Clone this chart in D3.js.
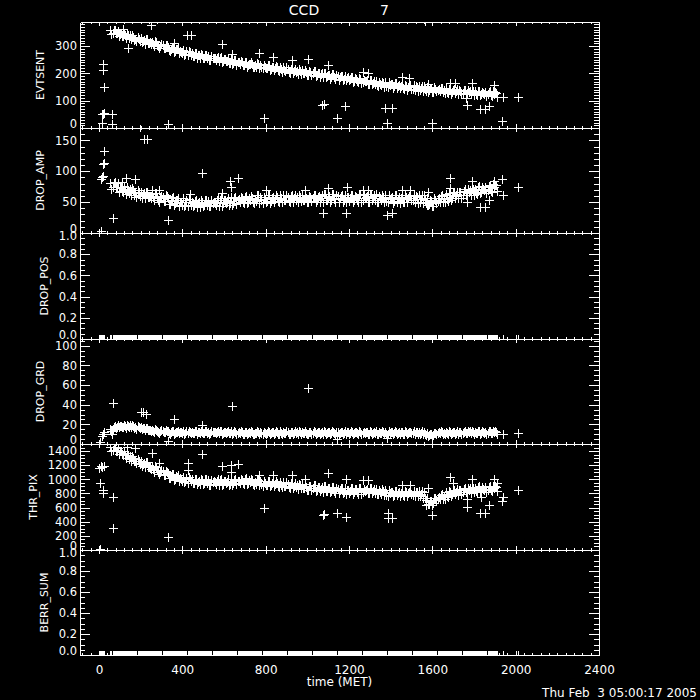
<!DOCTYPE html>
<html>
<head>
<meta charset="utf-8">
<script src="https://cdn.jsdelivr.net/npm/d3@7"></script>
<style>
  html, body { margin: 0; padding: 0; background: #000; }
  svg { display: block; }
</style>
</head>
<body>
<svg id="main-svg"></svg>
<script>
// ---- data ----
// two interleaved sample grids (the band is very dense)
const TIME = [
  55,65,75,85,95,105,115,125,135,145,
  155,165,175,185,195,205,215,225,235,245,
  255,265,275,285,295,305,315,325,335,345,
  355,365,375,385,395,405,415,425,435,445,
  455,465,475,485,495,505,515,525,535,545,
  555,565,575,585,595,605,615,625,635,645,
  655,665,675,685,695,705,715,725,735,745,
  755,765,775,785,795,805,815,825,835,845,
  855,865,875,885,895,905,915,925,935,945,
  955,965,975,985,995,1005,1015,1025,1035,1045,
  1055,1065,1075,1085,1095,1105,1115,1125,1135,1145,
  1155,1165,1175,1185,1195,1205,1215,1225,1235,1245,
  1255,1265,1275,1285,1295,1305,1315,1325,1335,1345,
  1355,1365,1375,1385,1395,1405,1415,1425,1435,1445,
  1455,1465,1475,1485,1495,1505,1515,1525,1535,1545,
  1555,1565,1575,1585,1595,1605,1615,1625,1635,1645,
  1655,1665,1675,1685,1695,1705,1715,1725,1735,1745,
  1755,1765,1775,1785,1795,1805,1815,1825,1835,1845,
  1855,1865,1875,1885,1895,1905
];
const TIME_B = [
  60,70,80,90,100,110,120,130,140,150,
  160,170,180,190,200,210,220,230,240,250,
  260,270,280,290,300,310,320,330,340,350,
  360,370,380,390,400,410,420,430,440,450,
  460,470,480,490,500,510,520,530,540,550,
  560,570,580,590,600,610,620,630,640,650,
  660,670,680,690,700,710,720,730,740,750,
  760,770,780,790,800,810,820,830,840,850,
  860,870,880,890,900,910,920,930,940,950,
  960,970,980,990,1000,1010,1020,1030,1040,1050,
  1060,1070,1080,1090,1100,1110,1120,1130,1140,1150,
  1160,1170,1180,1190,1200,1210,1220,1230,1240,1250,
  1260,1270,1280,1290,1300,1310,1320,1330,1340,1350,
  1360,1370,1380,1390,1400,1410,1420,1430,1440,1450,
  1460,1470,1480,1490,1500,1510,1520,1530,1540,1550,
  1560,1570,1580,1590,1600,1610,1620,1630,1640,1650,
  1660,1670,1680,1690,1700,1710,1720,1730,1740,1750,
  1760,1770,1780,1790,1800,1810,1820,1830,1840,1850,
  1860,1870,1880,1890,1900,1910
];

const EVTSENT = [
  359,349,359,348,338,348,337,339,345,330,
  324,334,327,333,319,313,323,325,311,313,
  315,301,314,300,301,303,293,302,284,290,
  296,282,288,274,280,286,272,266,277,275,
  265,276,266,256,267,257,268,263,249,256,
  255,257,244,259,246,252,247,238,252,239,
  250,241,235,242,229,243,230,233,236,223,
  225,236,231,218,225,219,230,217,224,219,
  222,209,216,223,210,216,203,218,209,204,
  199,210,214,201,204,194,205,200,207,194,
  201,196,187,202,189,195,186,197,180,190,
  185,192,179,174,185,179,186,173,180,167,
  181,168,171,174,161,175,166,161,156,167,
  158,165,168,151,158,161,152,163,154,145,
  156,143,154,149,156,144,139,150,154,145,
  136,143,151,138,145,133,144,139,135,146,
  138,145,128,140,131,143,134,126,137,129,
  140,128,131,123,134,134,121,137,124,128,
  131,123,134,118,125,129
];
const EVTSENT_B = [
  345,358,347,356,345,337,349,329,339,339,
  340,323,317,327,328,320,309,325,311,306,
  307,317,305,294,306,292,305,296,282,295,
  278,288,292,281,273,268,281,282,269,264,
  274,258,268,272,256,269,256,249,262,258,
  248,261,257,241,252,244,255,239,234,248,
  232,243,247,231,242,225,236,241,225,230,
  237,218,223,231,218,231,212,223,213,227,
  211,225,206,211,222,205,216,200,217,210,
  215,199,202,213,194,207,194,208,189,200,
  187,201,203,187,195,181,198,185,193,176,
  190,174,191,184,174,187,168,182,172,183,
  163,177,173,160,177,160,171,173,154,162,
  170,151,153,167,160,147,164,148,159,155,
  145,159,140,154,144,156,152,136,139,153,
  152,136,133,147,131,149,136,144,147,131,
  128,133,144,126,140,128,142,139,123,138,
  125,140,136,139,120,123,137,119,133,124,
  117,132,119,134,130,115
];
const EVTSENT_OUT_T = [250,115,422,441,360,139,591,640,768,835,928,1005,1099,
  18,18,24,14,18,22,63,14,63,197,332,793,1070,1080,1181,1142,
  1268,1293,1453,1490,1373,1405,1383,1580,1597,1685,1709,1790,1762,1766,1829,1853,1872,1896,1940,2011,1935,1565];
const EVTSENT_OUT_V = [377,362,340,340,311,292,307,270,274,259,248,252,230,
  233,211,149,50,53,55,50,20,13,-2,13,35,86,88,79,35,
  204,200,186,182,75,75,20,160,20,164,164,164,108,86,68,68,82,156,112,112,24,392];

const DROP_AMP = [
  81,74,82,75,67,75,67,69,74,64,
  61,69,65,70,60,57,65,67,58,60,
  63,53,64,54,56,59,52,60,47,52,
  58,48,54,44,50,56,46,43,51,51,
  45,54,48,42,51,45,54,52,43,49,
  49,53,44,56,48,54,51,46,58,49,
  59,53,50,57,48,60,51,54,57,49,
  52,61,58,49,55,52,61,52,58,55,
  59,50,56,62,53,59,50,62,56,53,
  50,59,62,53,56,50,59,56,62,53,
  60,57,51,63,54,60,54,63,51,60,
  56,62,53,50,59,56,62,53,59,50,
  63,54,57,60,51,63,57,54,51,60,
  53,59,62,50,55,58,52,61,55,49,
  58,50,59,56,62,53,50,58,61,55,
  49,53,57,47,52,44,54,52,51,61,
  56,63,52,62,57,66,61,56,66,61,
  71,62,66,61,71,71,63,76,67,71,
  74,69,78,67,74,77
];
const DROP_AMP_B = [
  72,81,74,81,73,68,76,63,70,71,
  73,62,59,66,67,63,56,67,59,56,
  58,65,58,51,60,52,61,56,47,56,
  46,53,57,50,46,44,53,55,46,44,
  52,42,50,54,44,54,46,43,53,51,
  45,56,54,44,53,49,57,48,46,56,
  47,55,59,50,58,48,56,60,50,55,
  61,49,53,59,51,61,49,57,51,61,
  52,62,50,54,62,52,60,50,62,58,
  62,52,54,62,50,60,52,62,50,58,
  51,61,63,53,59,51,63,55,61,51,
  60,50,62,58,52,62,50,60,54,62,
  51,61,59,51,63,53,61,63,51,57,
  62,50,52,62,57,49,61,51,59,57,
  51,62,50,60,54,62,60,49,51,61,
  61,49,45,54,43,56,49,56,60,51,
  50,55,64,53,64,56,67,66,57,68,
  61,71,70,73,62,64,75,64,74,69,
  65,76,68,79,78,68
];
const DROP_AMP_OUT_T = [24,20,26,10,14,18,216,230,197,67,332,495,629,668,634,130,173,110,
  254,288,437,591,802,989,1099,1075,1186,1191,1268,1293,1453,1493,1580,
  1685,1790,1896,1935,2011,1940,1766,1829,1853,1872,1383,1405,1575,1685,8];
const DROP_AMP_OUT_V = [132,112,114,88,90,92,153,153,171,24,21,97,85,89,74,89,87,82,
  69,69,63,64,69,69,73,32,32,74,69,69,69,69,66,
  89,84,85,87,74,61,50,42,42,53,29,32,45,73,3];

const DROP_POS = [
  0,0,0,0,0,0,0,0,0,0, 0,0,0,0,0,0,0,0,0,0, 0,0,0,0,0,0,0,0,0,0,
  0,0,0,0,0,0,0,0,0,0, 0,0,0,0,0,0,0,0,0,0, 0,0,0,0,0,0,0,0,0,0,
  0,0,0,0,0,0,0,0,0,0, 0,0,0,0,0,0,0,0,0,0, 0,0,0,0,0,0,0,0,0,0,
  0,0,0,0,0,0,0,0,0,0, 0,0,0,0,0,0,0,0,0,0, 0,0,0,0,0,0,0,0,0,0,
  0,0,0,0,0,0,0,0,0,0, 0,0,0,0,0,0,0,0,0,0, 0,0,0,0,0,0,0,0,0,0,
  0,0,0,0,0,0,0,0,0,0, 0,0,0,0,0,0,0,0,0,0, 0,0,0,0,0,0,0,0,0,0,
  0,0,0,0,0,0
];
const DROP_POS_B = [
  0,0,0,0,0,0,0,0,0,0, 0,0,0,0,0,0,0,0,0,0, 0,0,0,0,0,0,0,0,0,0,
  0,0,0,0,0,0,0,0,0,0, 0,0,0,0,0,0,0,0,0,0, 0,0,0,0,0,0,0,0,0,0,
  0,0,0,0,0,0,0,0,0,0, 0,0,0,0,0,0,0,0,0,0, 0,0,0,0,0,0,0,0,0,0,
  0,0,0,0,0,0,0,0,0,0, 0,0,0,0,0,0,0,0,0,0, 0,0,0,0,0,0,0,0,0,0,
  0,0,0,0,0,0,0,0,0,0, 0,0,0,0,0,0,0,0,0,0, 0,0,0,0,0,0,0,0,0,0,
  0,0,0,0,0,0,0,0,0,0, 0,0,0,0,0,0,0,0,0,0, 0,0,0,0,0,0,0,0,0,0,
  0,0,0,0,0,0
];
const DROP_POS_OUT_T = [5,10,15,20,25,1940,2011];
const DROP_POS_OUT_V = [0,0,0,0,0,0,0];

const DROP_GRD = [
  15.5,15.5,18,17.5,17,18.5,17.5,18,19,17.5,
  17,18,17,18,16,15,16,16,14,14,
  14.5,12.5,14.5,12.5,13,13.5,12,13.5,11,12,
  13,11.5,12.5,11,12,13,11.5,11,12.5,12.5,
  11.5,13,12,11,12.5,11.5,13,12.5,11,12,
  12,12.5,11,13,11.5,12.5,12,11,13,11.5,
  12.5,11.5,11,12,10.5,12.5,11,11.5,12,10.5,
  11,12.5,12,10.5,11.5,11,12.5,11,12,11.5,
  12,10.5,11.5,12.5,11,12,10.5,12.5,11.5,11,
  10.5,12,12.5,11,11.5,10.5,12,11.5,12.5,11,
  12,11.5,10.5,12.5,11,12,11,12.5,10.5,12,
  11.5,12.5,11,10.5,12,11.5,12.5,11,12,10.5,
  12.5,11,11.5,12,10.5,12.5,11.5,11,10.5,12,
  11,12,12.5,10.5,11.5,12,11,12.5,11.5,10.5,
  12,10.5,12,11.5,12.5,11,10.5,12,12.5,11.5,
  10,10.5,11,9,10,9,11,11,11,12.5,
  11.5,12.5,10.5,12,11,12.5,11.5,10.5,12,11,
  13,11.5,12,11,12.5,12.5,11,13,11.5,12,
  12.5,11.5,13,11,12,12.5
];
const DROP_GRD_B = [
  13.5,17,16.5,19,18,17,19.5,16.5,18.5,19,
  19.5,16.5,15.5,17.5,17.5,16,14,16.5,14,13,
  13.5,15,13.5,11.5,14,12,14,13,10.5,13,
  10.5,12.5,13.5,12,11,10.5,13,13.5,11.5,11,
  13,10.5,12.5,13.5,11,13.5,11.5,10.5,13,12.5,
  11,13.5,13,10.5,12.5,11.5,13.5,11,10.5,13,
  10,12,13,10.5,12.5,10,12,13,10.5,11.5,
  13,10,11,12.5,10.5,13,10,12,10.5,13,
  10.5,13,10,11,13,10.5,12.5,10,13,12,
  13,10.5,11,13,10,12.5,10.5,13,10,12,
  10,12.5,13,10.5,12,10,13,11,12.5,10,
  12.5,10,13,12,10.5,13,10,12.5,11,13,
  10,12.5,12,10,13,10.5,12.5,13,10,11.5,
  13,10,10.5,13,12,10,13,10.5,12.5,12,
  10.5,13,10,12.5,11,13,12.5,10,10.5,13,
  12.5,9.5,8.5,10.5,8,11.5,10,12,13,10.5,
  10,11,13,10,12.5,10.5,13,12.5,10,12.5,
  11,13.5,13,13.5,10.5,11,13.5,10.5,13,11.5,
  10.5,13,11,13.5,13,10.5
];
const DROP_GRD_OUT_T = [67,202,211,226,360,495,640,1005,19,62,332,1142,5,1940,2011,1383,1597,14,24];
const DROP_GRD_OUT_V = [42,33,33,31,25,19,39,57,10,10,3,5,2,10,11,6,7,8,12];

const THR_PIX = [
  1460,1409,1458,1407,1356,1401,1343,1345,1367,1289,
  1253,1299,1265,1291,1217,1184,1232,1240,1168,1176,
  1183,1109,1175,1101,1107,1114,1062,1110,1018,1046,
  1076,1008,1040,972,1004,1038,973,948,1003,998,
  953,1011,969,927,985,945,1004,984,923,963,
  962,982,921,1001,940,981,962,924,1005,947,
  1008,970,951,993,934,1014,951,968,985,922,
  939,996,973,910,947,924,982,919,957,934,
  951,889,926,964,901,939,876,953,909,886,
  862,919,935,872,888,843,901,878,916,854,
  891,869,826,904,841,879,836,894,811,869,
  846,884,821,799,856,835,876,816,857,797,
  878,818,839,859,800,878,834,810,786,842,
  798,834,850,766,802,820,780,840,800,760,
  820,760,820,800,840,780,759,817,835,792,
  735,740,735,650,700,660,735,727,720,793,
  765,818,750,822,788,853,819,785,851,817,
  881,824,847,810,873,876,818,900,842,864,
  886,848,910,832,874,896
];
const THR_PIX_B = [
  1401,1455,1405,1446,1396,1355,1402,1306,1340,1335,
  1332,1253,1226,1264,1263,1224,1173,1239,1175,1150,
  1150,1188,1135,1082,1133,1068,1121,1083,1019,1072,
  997,1041,1059,1012,978,959,1019,1027,970,952,
  999,932,982,1006,939,1004,951,925,989,976,
  936,1001,987,922,973,948,1001,938,926,993,
  929,983,1010,947,1000,935,984,1007,939,962,
  998,917,940,976,921,983,903,952,911,973,
  905,968,887,911,960,893,942,874,948,919,
  941,873,882,931,849,909,855,917,837,887,
  832,895,905,838,874,820,895,841,877,810,
  872,805,880,852,810,874,797,862,824,876,
  799,864,852,800,879,812,860,869,787,822,
  857,775,784,845,815,761,839,774,826,813,
  774,839,761,826,787,839,825,758,769,831,
  814,714,656,696,641,739,702,753,779,727,
  726,765,829,763,834,787,858,851,792,863,
  815,883,873,889,814,830,897,821,888,851,
  827,894,844,911,900,837
];
const THR_PIX_OUT_T = [0,8,15,22,5,19,19,67,67,332,254,495,134,173,428,428,288,591,634,668,634,
  793,768,835,928,989,1099,1075,1080,1142,1186,1186,1268,1293,1389,1389,1405,
  1453,1493,1597,1570,1580,1685,1699,1790,1766,1766,1829,1853,1872,1896,1911,1940,1935,2011,1834,5];
const THR_PIX_OUT_V = [1160,1190,1175,1185,945,846,803,746,305,178,1372,1358,1457,1443,1230,1130,1230,1187,1201,1216,1102,
  590,1059,1059,1059,1002,1088,490,505,518,462,1002,988,988,518,448,448,
  917,917,490,633,874,1031,945,1002,604,718,518,518,633,1002,945,746,690,846,746,20];

const BERR_SUM = [
  0,0,0,0,0,0,0,0,0,0, 0,0,0,0,0,0,0,0,0,0, 0,0,0,0,0,0,0,0,0,0,
  0,0,0,0,0,0,0,0,0,0, 0,0,0,0,0,0,0,0,0,0, 0,0,0,0,0,0,0,0,0,0,
  0,0,0,0,0,0,0,0,0,0, 0,0,0,0,0,0,0,0,0,0, 0,0,0,0,0,0,0,0,0,0,
  0,0,0,0,0,0,0,0,0,0, 0,0,0,0,0,0,0,0,0,0, 0,0,0,0,0,0,0,0,0,0,
  0,0,0,0,0,0,0,0,0,0, 0,0,0,0,0,0,0,0,0,0, 0,0,0,0,0,0,0,0,0,0,
  0,0,0,0,0,0,0,0,0,0, 0,0,0,0,0,0,0,0,0,0, 0,0,0,0,0,0,0,0,0,0,
  0,0,0,0,0,0
];
const BERR_SUM_B = [
  0,0,0,0,0,0,0,0,0,0, 0,0,0,0,0,0,0,0,0,0, 0,0,0,0,0,0,0,0,0,0,
  0,0,0,0,0,0,0,0,0,0, 0,0,0,0,0,0,0,0,0,0, 0,0,0,0,0,0,0,0,0,0,
  0,0,0,0,0,0,0,0,0,0, 0,0,0,0,0,0,0,0,0,0, 0,0,0,0,0,0,0,0,0,0,
  0,0,0,0,0,0,0,0,0,0, 0,0,0,0,0,0,0,0,0,0, 0,0,0,0,0,0,0,0,0,0,
  0,0,0,0,0,0,0,0,0,0, 0,0,0,0,0,0,0,0,0,0, 0,0,0,0,0,0,0,0,0,0,
  0,0,0,0,0,0,0,0,0,0, 0,0,0,0,0,0,0,0,0,0, 0,0,0,0,0,0,0,0,0,0,
  0,0,0,0,0,0
];
const BERR_SUM_OUT_T = [5,10,15,20,25,1940,2011];
const BERR_SUM_OUT_V = [0,0,0,0,0,0,0];

// axis setup
const PANEL_NAMES = ["EVTSENT", "DROP_AMP", "DROP_POS", "DROP_GRD", "THR_PIX", "BERR_SUM"];
const Y_MAX = [388, 170, 1, 107, 1500, 1];
const Y_TICKS = [
  [0, 100, 200, 300],
  [0, 50, 100, 150],
  [0, 0.2, 0.4, 0.6, 0.8, 1.0],
  [0, 20, 40, 60, 80, 100],
  [0, 200, 400, 600, 800, 1000, 1200, 1400],
  [0, 0.2, 0.4, 0.6, 0.8, 1.0]
];
const Y_MINOR_STEP = [10, 10, 0.05, 5, 50, 0.05];
const TIME_TICKS = [0, 400, 800, 1200, 1600, 2000, 2400];
const TIME_DOMAIN = [-91, 2400];

const panels = [
  { series: [[TIME, EVTSENT], [TIME_B, EVTSENT_B]], outT: EVTSENT_OUT_T, outV: EVTSENT_OUT_V },
  { series: [[TIME, DROP_AMP], [TIME_B, DROP_AMP_B]], outT: DROP_AMP_OUT_T, outV: DROP_AMP_OUT_V },
  { series: [[TIME, DROP_POS], [TIME_B, DROP_POS_B]], outT: DROP_POS_OUT_T, outV: DROP_POS_OUT_V },
  { series: [[TIME, DROP_GRD], [TIME_B, DROP_GRD_B]], outT: DROP_GRD_OUT_T, outV: DROP_GRD_OUT_V },
  { series: [[TIME, THR_PIX], [TIME_B, THR_PIX_B]], outT: THR_PIX_OUT_T, outV: THR_PIX_OUT_V },
  { series: [[TIME, BERR_SUM], [TIME_B, BERR_SUM_B]], outT: BERR_SUM_OUT_T, outV: BERR_SUM_OUT_V }
];

// ---- layout ----
CANVAS_WIDTH = 700
CANVAS_HEIGHT = 700
PLOT_LEFT = 80
PLOT_RIGHT = 599
PLOT_TOP = 22
PLOT_BOTTOM = 655
PANEL_H = (PLOT_BOTTOM - PLOT_TOP) / PANEL_NAMES.length
FONT = "'DejaVu Sans', sans-serif"

const svg = d3.select("#main-svg")
  .attr("width", CANVAS_WIDTH)
  .attr("height", CANVAS_HEIGHT);

svg.append("rect")
  .attr("width", CANVAS_WIDTH)
  .attr("height", CANVAS_HEIGHT)
  .attr("fill", "#000");

const x = d3.scaleLinear().domain(TIME_DOMAIN).range([PLOT_LEFT, PLOT_RIGHT]);
const minorX = d3.range(-80, 2401, 40);

// IDL psym=1 style plus sign, snapped to the pixel grid
const plus = (px, py) => {
  const cx = Math.round(px), cy = Math.round(py);
  return `M${cx - 4},${cy + 0.5}H${cx + 5}M${cx + 0.5},${cy - 4}V${cy + 5}`;
};

const styleAxis = (g) => {
  g.attr("color", "#fff")
    .attr("font-family", FONT)
    .attr("font-size", 11.5)
    .attr("shape-rendering", "crispEdges");
  g.selectAll("text").attr("fill", "#fff");
};

const noLabel = () => "";

PANEL_NAMES.forEach((name, i) => {
  const y0 = Math.round(PLOT_TOP + i * PANEL_H);
  const y1 = Math.round(PLOT_TOP + (i + 1) * PANEL_H);
  const y = d3.scaleLinear().domain([0, Y_MAX[i]]).range([y1, y0]);
  const p = panels[i];

  const clipId = "clip" + i;
  svg.append("clipPath").attr("id", clipId)
    .append("rect")
    .attr("x", PLOT_LEFT).attr("y", y0)
    .attr("width", PLOT_RIGHT - PLOT_LEFT + 1)
    .attr("height", y1 - y0 + 1);

  // plus markers
  let d = "";
  p.series.forEach(([ts, vs]) => {
    vs.forEach((v, k) => { d += plus(x(ts[k]), y(v)); });
  });
  p.outV.forEach((v, k) => { d += plus(x(p.outT[k]), y(v)); });
  svg.append("path")
    .attr("clip-path", `url(#${clipId})`)
    .attr("d", d)
    .attr("fill", "none")
    .attr("stroke", "#fff")
    .attr("stroke-width", 1)
    .attr("shape-rendering", "crispEdges");

  const fmt = Y_MAX[i] <= 1 ? d3.format(".1f") : d3.format("d");
  const minorY = d3.range(0, Y_MAX[i] + 1e-9, Y_MINOR_STEP[i]);

  // left axis
  const left = svg.append("g").attr("transform", `translate(${PLOT_LEFT},0)`);
  left.append("g").call(d3.axisLeft(y).tickValues(minorY).tickSize(-5).tickSizeOuter(0).tickFormat(noLabel)).call(styleAxis);
  const leftMajor = left.append("g")
    .call(d3.axisLeft(y).tickValues(Y_TICKS[i]).tickSize(-10).tickSizeOuter(0).tickPadding(3).tickFormat(fmt))
    .call(styleAxis);
  leftMajor.selectAll("text")
    .attr("y", v => v === 0 ? -4 : (v === Y_MAX[i] ? 3 : 0));

  // right axis
  const right = svg.append("g").attr("transform", `translate(${PLOT_RIGHT},0)`);
  right.append("g").call(d3.axisRight(y).tickValues(minorY).tickSize(-5).tickSizeOuter(0).tickFormat(noLabel)).call(styleAxis);
  right.append("g").call(d3.axisRight(y).tickValues(Y_TICKS[i]).tickSize(-10).tickSizeOuter(0).tickFormat(noLabel)).call(styleAxis);

  // top axis
  const top = svg.append("g").attr("transform", `translate(0,${y0})`);
  top.append("g").call(d3.axisTop(x).tickValues(minorX).tickSize(-2).tickSizeOuter(0).tickFormat(noLabel)).call(styleAxis);
  top.append("g").call(d3.axisTop(x).tickValues(TIME_TICKS).tickSize(-4).tickSizeOuter(0).tickFormat(noLabel)).call(styleAxis);

  // bottom axis
  const isLast = i === PANEL_NAMES.length - 1;
  const bottom = svg.append("g").attr("transform", `translate(0,${y1})`);
  bottom.append("g").call(d3.axisBottom(x).tickValues(minorX).tickSize(-2).tickSizeOuter(0).tickFormat(noLabel)).call(styleAxis);
  bottom.append("g")
    .call(d3.axisBottom(x).tickValues(TIME_TICKS).tickSize(-4).tickSizeOuter(0).tickPadding(10)
      .tickFormat(isLast ? d3.format("d") : noLabel))
    .call(styleAxis)
    .attr("font-size", 12);

  // y title, left of the widest tick label
  const labelsLeft = d3.min(leftMajor.selectAll("text").nodes(), n => n.getBBox().x);
  const titleX = PLOT_LEFT + labelsLeft - 15;
  svg.append("text")
    .attr("transform", `translate(${titleX + 4},${(y0 + y1) / 2}) rotate(-90)`)
    .attr("text-anchor", "middle")
    .attr("font-family", FONT)
    .attr("font-size", 11)
    .attr("fill", "#fff")
    .text(name);
});

// titles
svg.append("text")
  .attr("x", 304).attr("y", 15)
  .attr("text-anchor", "middle")
  .attr("font-family", FONT).attr("font-size", 14).attr("fill", "#fff")
  .text("CCD");
svg.append("text")
  .attr("x", 384.5).attr("y", 15)
  .attr("text-anchor", "middle")
  .attr("font-family", FONT).attr("font-size", 14).attr("fill", "#fff")
  .text("7");

svg.append("text")
  .attr("x", (PLOT_LEFT + PLOT_RIGHT) / 2).attr("y", 686)
  .attr("text-anchor", "middle")
  .attr("font-family", FONT).attr("font-size", 12).attr("fill", "#fff")
  .text("time (MET)");

svg.append("text")
  .attr("x", 697).attr("y", 697)
  .attr("text-anchor", "end")
  .attr("xml:space", "preserve")
  .style("white-space", "pre")
  .attr("font-family", FONT).attr("font-size", 12).attr("fill", "#fff")
  .text("Thu Feb  3 05:00:17 2005");
</script>
</body>
</html>
